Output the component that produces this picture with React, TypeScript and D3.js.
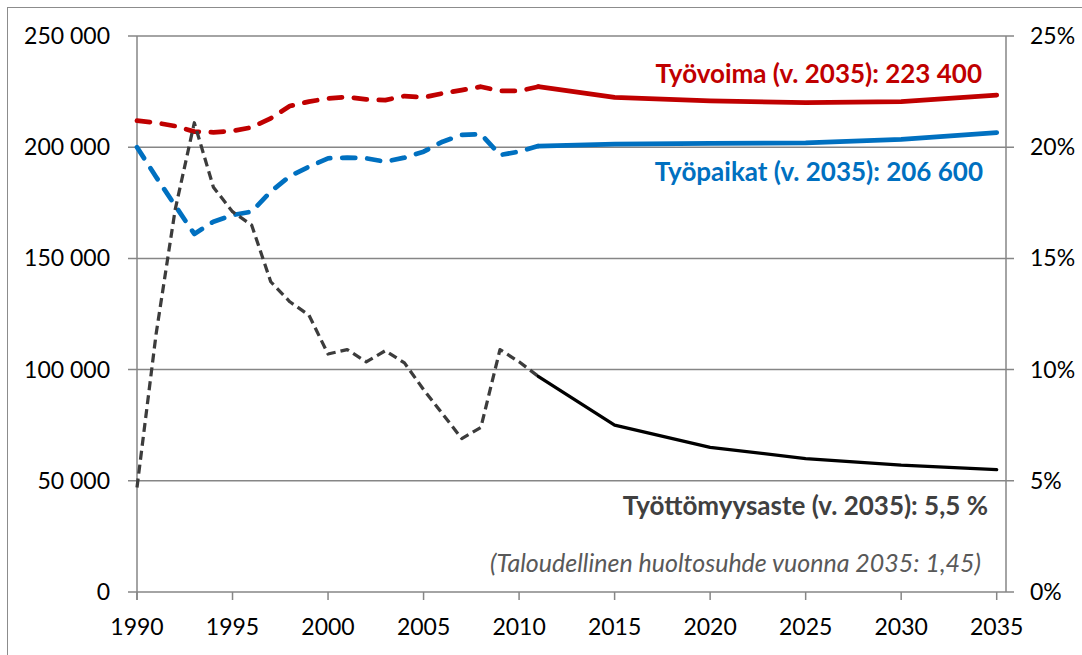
// App.tsx
import React, {useEffect, useRef} from "react";
import * as d3 from "d3";

const histYears = [1990, 1991, 1992, 1993, 1994, 1995, 1996, 1997, 1998, 1999, 2000,
    2001, 2002, 2003, 2004, 2005, 2006, 2007, 2008, 2009, 2010, 2011];
const projYears = [2011, 2015, 2020, 2025, 2030, 2035];

// Työvoima (labour force)
const tyovoimaHist = [211900, 211000, 209500, 207000, 206700, 207300, 208900, 213000, 218500, 220500, 221900,
    222600, 221500, 221200, 223000, 222400, 224200, 225700, 227200, 225300, 225300, 227200];
const tyovoimaProj = [227200, 222400, 220800, 220000, 220500, 223400];

// Työpaikat (jobs)
const tyopaikatHist = [200000, 186600, 173700, 161000, 166500, 169500, 171000, 180000, 187000, 191200, 195000,
    195300, 195000, 193500, 195300, 198000, 202500, 205500, 205900, 196500, 198000, 200500];
const tyopaikatProj = [200500, 201400, 201700, 202000, 203500, 206600];

// Työttömyysaste (unemployment rate, %)
const tyottomyysHist = [4.7, 11.6, 17.2, 21.1, 18.2, 17.1, 16.5, 13.95, 13.05, 12.45, 10.7,
    10.9, 10.35, 10.85, 10.3, 9.1, 8.0, 6.9, 7.4, 10.9, 10.35, 9.7];
const tyottomyysProj = [9.7, 7.5, 6.5, 6.0, 5.7, 5.5];

const xTicks = [1990, 1995, 2000, 2005, 2010, 2015, 2020, 2025, 2030, 2035];
const leftTicks = [0, 50000, 100000, 150000, 200000, 250000];
const rightTicks = [0, 5, 10, 15, 20, 25];

const FONT = "Lato, 'Open Sans', sans-serif";

export default function App() {
    const svgRef = useRef<SVGSVGElement | null>(null);

    useEffect(() => {
        if (!svgRef.current) return;
        const svg = d3.select(svgRef.current);
        svg.selectAll("*").remove();

        const W = 1082, H = 655;
        const left = 137, right = 1006, top = 36, bottom = 592;

        const x = d3.scaleLinear().domain([1990, 2035]).range([left, 996.7]);
        const y = d3.scaleLinear().domain([0, 250000]).range([bottom, top]);
        const y2 = d3.scaleLinear().domain([0, 25]).range([bottom, top]);

        svg.attr("width", W).attr("height", H).attr("viewBox", `0 0 ${W} ${H}`);

        // chart border (only left/top visible)
        svg.append("rect")
            .attr("x", 7.5).attr("y", 7.5)
            .attr("width", W + 20).attr("height", H + 20)
            .attr("fill", "white")
            .attr("stroke", "#8c8c8c")
            .attr("stroke-width", 1);

        const grid = "#868686";

        // horizontal gridlines + ticks
        svg.append("g")
            .selectAll("line")
            .data(leftTicks)
            .enter()
            .append("line")
            .attr("x1", left - 9)
            .attr("x2", right + 8)
            .attr("y1", (d) => y(d))
            .attr("y2", (d) => y(d))
            .attr("stroke", grid)
            .attr("stroke-width", 1.5);

        // axis lines
        svg.append("line")
            .attr("x1", left).attr("x2", left)
            .attr("y1", top).attr("y2", bottom + 8)
            .attr("stroke", grid).attr("stroke-width", 1.5);
        svg.append("line")
            .attr("x1", right).attr("x2", right)
            .attr("y1", top).attr("y2", bottom)
            .attr("stroke", grid).attr("stroke-width", 1.5);

        // x ticks
        svg.append("g")
            .selectAll("line")
            .data(xTicks)
            .enter()
            .append("line")
            .attr("x1", (d) => x(d))
            .attr("x2", (d) => x(d))
            .attr("y1", bottom)
            .attr("y2", bottom + 8)
            .attr("stroke", grid)
            .attr("stroke-width", 1.5);

        const fmt = (v: number) => d3.format(",")(v).replace(/,/g, " ");

        svg.append("g")
            .selectAll("text")
            .data(leftTicks)
            .enter()
            .append("text")
            .attr("x", 110)
            .attr("y", (d) => y(d) + 8)
            .attr("text-anchor", "end")
            .style("font-family", FONT)
            .style("font-size", "23px")
            .style("fill", "#000")
            .text((d) => fmt(d));

        svg.append("g")
            .selectAll("text")
            .data(rightTicks)
            .enter()
            .append("text")
            .attr("x", 1030)
            .attr("y", (d) => y2(d) + 8)
            .attr("text-anchor", "start")
            .style("font-family", FONT)
            .style("font-size", "23px")
            .style("fill", "#000")
            .text((d) => `${d}%`);

        svg.append("g")
            .selectAll("text")
            .data(xTicks)
            .enter()
            .append("text")
            .attr("x", (d) => x(d))
            .attr("y", 635)
            .attr("text-anchor", "middle")
            .style("font-family", FONT)
            .style("font-size", "23px")
            .style("fill", "#000")
            .text((d) => String(d));

        // lines
        const line = (yy: d3.ScaleLinear<number, number>) =>
            d3.line<[number, number]>()
                .x((d) => x(d[0]))
                .y((d) => yy(d[1]));

        const zip = (xs: number[], vs: number[]) => xs.map((v, i) => [v, vs[i]] as [number, number]);

        const series = [
            {hist: tyovoimaHist, proj: tyovoimaProj, scale: y, color: "#C00000", w: 4.75, dash: "13 12", cap: "round"},
            {hist: tyopaikatHist, proj: tyopaikatProj, scale: y, color: "#0070C0", w: 4.75, dash: "13 12", cap: "round"},
            {hist: tyottomyysHist, proj: tyottomyysProj, scale: y2, color: "#3c3c3c", w: 3.25, dash: "9 5", cap: "butt", solidColor: "#000"},
        ];

        series.forEach((s) => {
            svg.append("path")
                .attr("d", line(s.scale)(zip(histYears, s.hist)))
                .attr("fill", "none")
                .attr("stroke", s.color)
                .attr("stroke-width", s.w)
                .attr("stroke-dasharray", s.dash)
                .attr("stroke-linecap", s.cap)
                .attr("stroke-linejoin", "round");
            svg.append("path")
                .attr("d", line(s.scale)(zip(projYears, s.proj)))
                .attr("fill", "none")
                .attr("stroke", s.solidColor ?? s.color)
                .attr("stroke-width", s.w)
                .attr("stroke-linecap", "round")
                .attr("stroke-linejoin", "round");
        });

        // annotations
        const labels = [
            {text: "Työvoima (v. 2035): 223 400", x: 982, y: 83, color: "#C00000", bold: true, size: 26},
            {text: "Työpaikat (v. 2035): 206 600", x: 983, y: 181, color: "#0070C0", bold: true, size: 26},
            {text: "Työttömyysaste (v. 2035): 5,5 %", x: 988, y: 515, color: "#404040", bold: true, size: 26},
            {text: "(Taloudellinen huoltosuhde vuonna 2035: 1,45)", x: 981, y: 572, color: "#595959", bold: false, size: 25},
        ];

        svg.append("g")
            .selectAll("text")
            .data(labels)
            .enter()
            .append("text")
            .attr("x", (d) => d.x)
            .attr("y", (d) => d.y)
            .attr("text-anchor", "end")
            .style("font-family", FONT)
            .style("font-size", (d) => `${d.size}px`)
            .style("font-weight", (d) => (d.bold ? "bold" : "normal"))
            .style("font-style", (d) => (d.bold ? "normal" : "italic"))
            .style("fill", (d) => d.color)
            .text((d) => d.text);
    }, []);

    return <svg ref={svgRef} style={{position: "absolute", left: 0, top: 0, display: "block"}} />;
}
